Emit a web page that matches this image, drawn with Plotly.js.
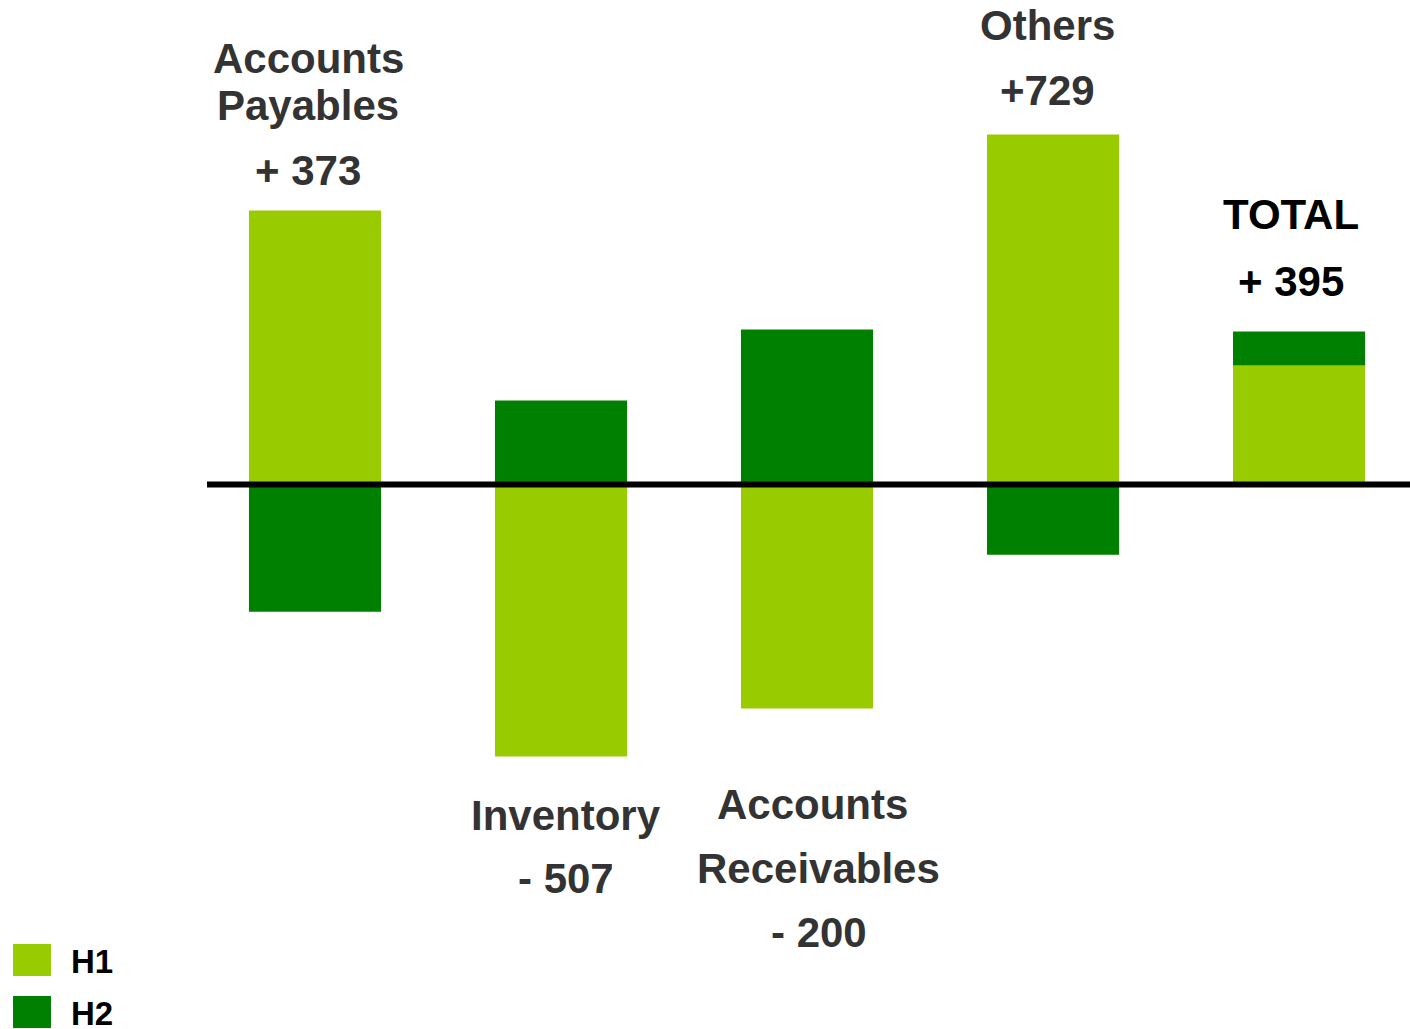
<!DOCTYPE html>
<html>
<head>
<meta charset="utf-8">
<script src="https://cdn.plot.ly/plotly-3.0.1.min.js"></script>
<style>
html,body{margin:0;padding:0;background:#fff;}
#chart{width:1410px;height:1029px;}
</style>
</head>
<body>
<div id="chart"></div>
<script>
// ---- data ----
const categories = ['Accounts Payables', 'Inventory', 'Accounts Receivables', 'Others', 'TOTAL'];
const seriesNames = ['H1', 'H2'];
const seriesColors = ['#99CC00', '#008000'];
const h1Values = [707, -702, -578, 903, 307];
const h2Values = [-328, 217, 400, -181, 88];
const netLabels = ['+ 373', '- 507', '- 200', '+729', '+ 395'];

// ---- layout helpers ----
const W = 1410, H = 1029;
const ML = 207;
const pxToPaperY = py => 1 - py / H;
const pxToPaperX = px => (px - ML) / (W - ML);
const xIdx = categories.map((c, i) => i);

const traces = [h1Values, h2Values].map((vals, s) => ({
  type: 'bar',
  name: seriesNames[s],
  x: xIdx,
  y: vals,
  width: 0.537,
  marker: {color: seriesColors[s], line: {width: 0}},
  hoverinfo: 'skip',
  showlegend: false
}));

const labelFont = {family: 'Liberation Sans, Arial, sans-serif', size: 42, color: '#333333', weight: 700};
const blackFont = Object.assign({}, labelFont, {color: '#000000'});

// label lines: [category index, text, x offset (categories), pixel y centre, font]
const labelLines = [
  [0, 'Accounts', -0.028, 58, labelFont],
  [0, 'Payables', -0.028, 105, labelFont],
  [0, netLabels[0], -0.028, 170, labelFont],
  [1, 'Inventory', 0.02, 815, labelFont],
  [1, netLabels[1], 0.02, 878, labelFont],
  [2, 'Accounts', 0.024, 804, labelFont],
  [2, 'Receivables', 0.048, 868, labelFont],
  [2, netLabels[2], 0.048, 932, labelFont],
  [3, 'Others', -0.024, 26, labelFont],
  [3, netLabels[3], -0.024, 91, labelFont],
  [4, 'TOTAL', -0.033, 215, blackFont],
  [4, netLabels[4], -0.033, 281, blackFont]
];

const annotations = labelLines.map(([ci, txt, dx, py, f]) => ({
  x: xIdx[ci] + dx, xref: 'x',
  y: pxToPaperY(py), yref: 'paper',
  text: txt, showarrow: false,
  xanchor: 'center', yanchor: 'middle',
  font: f
}));

// legend (custom, large swatches)
const legendY = [960, 1012];
const shapes = [{
  type: 'line', xref: 'paper', yref: 'y',
  x0: 0, x1: 1, y0: 0, y1: 0,
  line: {color: '#000000', width: 6},
  layer: 'above'
}];
seriesNames.forEach((n, s) => {
  shapes.push({
    type: 'rect', xref: 'paper', yref: 'paper',
    x0: pxToPaperX(13), x1: pxToPaperX(51),
    y0: pxToPaperY(legendY[s] + 16), y1: pxToPaperY(legendY[s] - 16),
    fillcolor: seriesColors[s], line: {width: 0}
  });
  annotations.push({
    x: pxToPaperX(69), xref: 'paper',
    y: pxToPaperY(legendY[s] + 1), yref: 'paper',
    text: n, showarrow: false,
    xanchor: 'left', yanchor: 'middle',
    font: {family: 'Liberation Sans, Arial, sans-serif', size: 33, color: '#000000', weight: 700}
  });
});

const scale = 2.58;
const layout = {
  width: W, height: H,
  margin: {l: ML, r: 0, t: 0, b: 0, pad: 0},
  paper_bgcolor: '#ffffff',
  plot_bgcolor: '#ffffff',
  barmode: 'relative',
  showlegend: false,
  xaxis: {range: [-0.439, 4.451], visible: false, fixedrange: true},
  yaxis: {range: [-(H - 484.5) * scale, 484.5 * scale], visible: false, zeroline: false, fixedrange: true},
  shapes: shapes,
  annotations: annotations
};

Plotly.newPlot('chart', traces, layout, {displayModeBar: false, staticPlot: true});
</script>
</body>
</html>
